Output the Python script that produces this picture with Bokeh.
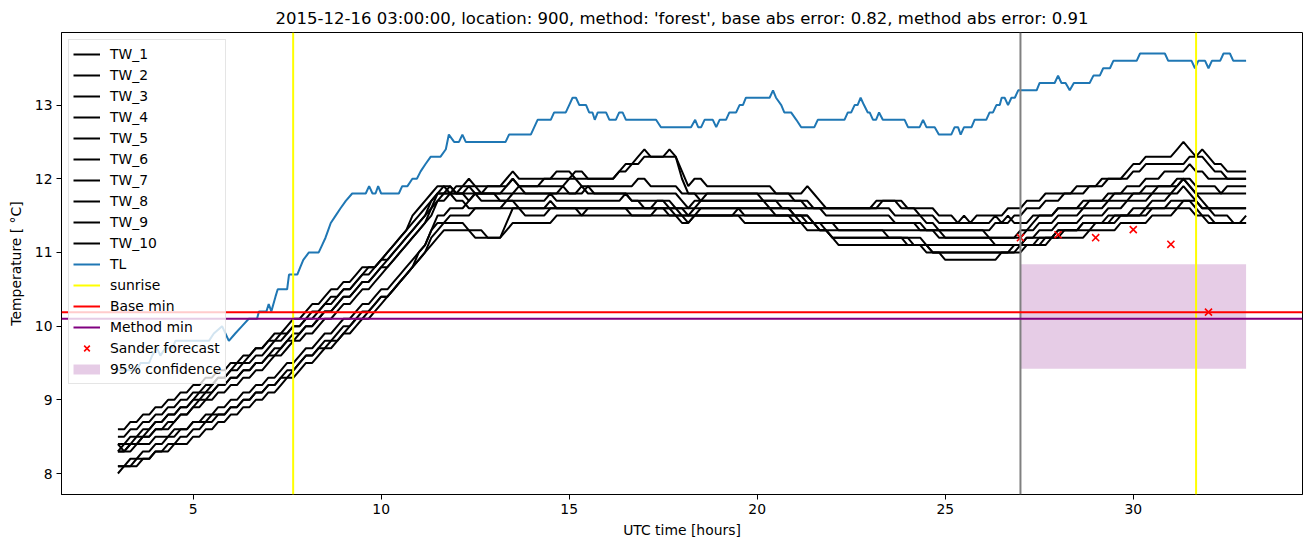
import numpy as np
from bokeh.plotting import figure
from bokeh.models import Range1d, FixedTicker, Span, Legend, LegendItem
from bokeh.embed import file_html
from bokeh.resources import INLINE

title_text = "2015-12-16 03:00:00, location: 900, method: 'forest', base abs error: 0.82, method abs error: 0.91"

# 10-minute samples from hour 3 to hour 33
tw_hours = list(np.round(np.arange(181) / 6 + 3, 4))

tw_1 = [8.6, 8.6, 8.7, 8.7, 8.8, 8.8, 8.9, 8.9, 9.0, 9.0, 9.1, 9.1,
        9.2, 9.2, 9.3, 9.3, 9.4, 9.4, 9.5, 9.5, 9.6, 9.6, 9.7, 9.7,
        9.8, 9.9, 9.9, 10.0, 10.1, 10.1, 10.2, 10.3, 10.3, 10.4, 10.5, 10.5,
        10.6, 10.6, 10.7, 10.8, 10.8, 10.8, 10.9, 11.0, 11.1, 11.2, 11.3, 11.5,
        11.6, 11.7, 11.8, 11.9, 11.9, 11.8, 11.9, 11.9, 12.0, 11.9, 11.9, 11.9,
        11.9, 11.9, 12.0, 12.1, 12.0, 12.0, 12.0, 12.0, 12.0, 12.0, 12.1, 12.1,
        12.1, 12.0, 12.0, 12.0, 12.0, 12.0, 12.0, 12.0, 12.1, 12.1, 12.2, 12.3,
        12.4, 12.3, 12.3, 12.3, 12.3, 12.3, 12.0, 11.8, 11.8, 11.8, 11.8, 11.8,
        11.8, 11.8, 11.8, 11.8, 11.8, 11.8, 11.8, 11.7, 11.7, 11.7, 11.7, 11.7,
        11.7, 11.7, 11.6, 11.6, 11.6, 11.6, 11.6, 11.6, 11.6, 11.6, 11.6, 11.6,
        11.6, 11.7, 11.7, 11.7, 11.7, 11.6, 11.6, 11.6, 11.5, 11.5, 11.5, 11.4,
        11.4, 11.4, 11.4, 11.5, 11.4, 11.5, 11.5, 11.5, 11.5, 11.5, 11.6, 11.6,
        11.6, 11.7, 11.7, 11.7, 11.8, 11.8, 11.8, 11.8, 11.8, 11.9, 11.9, 11.9,
        11.9, 12.0, 12.0, 12.0, 12.0, 12.1, 12.2, 12.2, 12.3, 12.3, 12.3, 12.3,
        12.3, 12.4, 12.5, 12.4, 12.3, 12.4, 12.3, 12.2, 12.2, 12.1, 12.1, 12.1,
        12.1]

tw_2 = [8.5, 8.5, 8.6, 8.6, 8.7, 8.7, 8.8, 8.8, 8.9, 8.9, 9.0, 9.0,
        9.1, 9.1, 9.2, 9.2, 9.3, 9.3, 9.4, 9.5, 9.5, 9.6, 9.7, 9.7,
        9.8, 9.8, 9.9, 9.9, 10.0, 10.0, 10.1, 10.2, 10.2, 10.3, 10.4, 10.4,
        10.5, 10.5, 10.6, 10.7, 10.8, 10.8, 10.9, 11.0, 11.1, 11.2, 11.3, 11.4,
        11.5, 11.6, 11.7, 11.8, 11.9, 11.9, 11.8, 11.9, 11.9, 11.9, 11.8, 11.9,
        11.9, 11.9, 11.9, 12.0, 11.9, 11.9, 11.9, 11.9, 12.0, 12.0, 12.0, 12.0,
        12.0, 12.1, 12.1, 12.0, 12.0, 12.0, 12.0, 12.0, 12.1, 12.2, 12.2, 12.2,
        12.3, 12.3, 12.3, 12.3, 12.4, 12.3, 12.1, 11.9, 12.0, 12.0, 11.9, 11.9,
        11.9, 11.9, 11.9, 11.9, 11.9, 11.9, 11.9, 11.9, 11.9, 11.8, 11.8, 11.8,
        11.8, 11.8, 11.9, 11.8, 11.7, 11.6, 11.6, 11.6, 11.6, 11.6, 11.6, 11.6,
        11.6, 11.6, 11.6, 11.6, 11.5, 11.5, 11.5, 11.5, 11.5, 11.4, 11.4, 11.3,
        11.3, 11.3, 11.3, 11.3, 11.3, 11.3, 11.3, 11.3, 11.4, 11.4, 11.4, 11.5,
        11.5, 11.6, 11.6, 11.6, 11.7, 11.7, 11.7, 11.8, 11.8, 11.8, 11.8, 11.9,
        11.9, 11.9, 12.0, 12.0, 12.0, 12.0, 12.1, 12.1, 12.2, 12.2, 12.2, 12.2,
        12.2, 12.2, 12.2, 12.3, 12.3, 12.3, 12.2, 12.1, 12.1, 12.0, 12.0, 12.0,
        12.0]

tw_3 = [8.4, 8.4, 8.5, 8.5, 8.6, 8.6, 8.7, 8.7, 8.8, 8.8, 8.9, 8.9,
        9.0, 9.1, 9.1, 9.2, 9.3, 9.3, 9.4, 9.4, 9.5, 9.5, 9.6, 9.6,
        9.7, 9.8, 9.8, 9.9, 10.0, 10.0, 10.1, 10.1, 10.2, 10.3, 10.3, 10.4,
        10.5, 10.5, 10.6, 10.7, 10.7, 10.8, 10.9, 10.9, 11.0, 11.1, 11.2, 11.3,
        11.4, 11.5, 11.7, 11.8, 11.8, 11.9, 11.8, 11.8, 11.8, 11.8, 11.8, 11.8,
        11.8, 11.8, 11.9, 12.0, 11.9, 11.9, 11.9, 11.9, 11.9, 11.9, 11.9, 11.9,
        12.0, 12.0, 11.9, 11.9, 11.9, 11.9, 11.9, 11.9, 11.9, 11.9, 11.9, 12.0,
        12.0, 11.9, 11.9, 11.9, 11.9, 11.9, 11.8, 11.8, 11.8, 11.7, 11.7, 11.7,
        11.7, 11.7, 11.7, 11.7, 11.7, 11.7, 11.7, 11.7, 11.7, 11.7, 11.6, 11.6,
        11.6, 11.6, 11.6, 11.6, 11.6, 11.5, 11.5, 11.5, 11.5, 11.5, 11.5, 11.5,
        11.5, 11.5, 11.5, 11.5, 11.4, 11.4, 11.4, 11.4, 11.3, 11.3, 11.3, 11.2,
        11.2, 11.2, 11.2, 11.2, 11.2, 11.2, 11.2, 11.2, 11.2, 11.2, 11.2, 11.2,
        11.3, 11.3, 11.4, 11.5, 11.5, 11.5, 11.6, 11.6, 11.6, 11.6, 11.7, 11.7,
        11.7, 11.7, 11.8, 11.8, 11.8, 11.9, 11.9, 11.9, 12.0, 12.0, 12.0, 12.1,
        12.1, 12.1, 12.1, 12.2, 12.1, 12.1, 12.0, 12.0, 12.0, 12.0, 12.0, 12.0,
        12.0]

tw_4 = [8.4, 8.3, 8.4, 8.5, 8.5, 8.6, 8.7, 8.7, 8.8, 8.8, 8.9, 8.9,
        9.0, 9.0, 9.1, 9.1, 9.2, 9.2, 9.3, 9.3, 9.4, 9.4, 9.5, 9.5,
        9.6, 9.7, 9.7, 9.8, 9.9, 9.9, 10.0, 10.0, 10.1, 10.2, 10.2, 10.3,
        10.4, 10.4, 10.5, 10.6, 10.6, 10.7, 10.8, 10.9, 11.0, 11.1, 11.2, 11.3,
        11.4, 11.5, 11.6, 11.8, 11.8, 11.8, 11.8, 11.8, 11.7, 11.8, 11.8, 11.8,
        11.8, 11.7, 11.7, 11.8, 11.8, 11.8, 11.8, 11.8, 11.8, 11.8, 11.8, 11.9,
        11.8, 11.8, 11.9, 11.8, 11.8, 11.8, 11.8, 11.8, 11.8, 11.8, 11.8, 11.8,
        11.8, 11.8, 11.8, 11.8, 11.8, 11.8, 11.7, 11.6, 11.6, 11.7, 11.7, 11.7,
        11.7, 11.7, 11.7, 11.7, 11.7, 11.7, 11.7, 11.7, 11.6, 11.6, 11.6, 11.6,
        11.5, 11.5, 11.5, 11.4, 11.4, 11.4, 11.4, 11.4, 11.4, 11.4, 11.4, 11.4,
        11.4, 11.4, 11.4, 11.4, 11.4, 11.4, 11.4, 11.4, 11.4, 11.3, 11.3, 11.3,
        11.3, 11.3, 11.3, 11.3, 11.3, 11.3, 11.3, 11.2, 11.2, 11.2, 11.2, 11.2,
        11.2, 11.3, 11.3, 11.4, 11.4, 11.4, 11.5, 11.5, 11.5, 11.5, 11.6, 11.6,
        11.6, 11.6, 11.7, 11.7, 11.7, 11.7, 11.8, 11.8, 11.8, 11.8, 11.9, 11.9,
        11.9, 12.0, 12.0, 11.9, 11.8, 11.8, 11.8, 11.8, 11.8, 11.9, 11.9, 11.9,
        11.9]

tw_5 = [8.3, 8.4, 8.4, 8.4, 8.5, 8.5, 8.6, 8.6, 8.7, 8.7, 8.8, 8.8,
        8.9, 9.0, 9.0, 9.1, 9.2, 9.2, 9.3, 9.3, 9.4, 9.4, 9.5, 9.5,
        9.6, 9.6, 9.7, 9.8, 9.8, 9.9, 10.0, 10.0, 10.1, 10.2, 10.2, 10.3,
        10.4, 10.4, 10.5, 10.6, 10.6, 10.7, 10.8, 10.8, 10.9, 11.0, 11.1, 11.2,
        11.3, 11.4, 11.5, 11.7, 11.7, 11.8, 11.8, 11.8, 11.9, 11.8, 11.7, 11.7,
        11.7, 11.7, 11.7, 11.7, 11.7, 11.7, 11.7, 11.7, 11.7, 11.8, 11.7, 11.7,
        11.7, 11.7, 11.7, 11.7, 11.7, 11.7, 11.7, 11.7, 11.7, 11.8, 11.7, 11.7,
        11.7, 11.7, 11.7, 11.7, 11.6, 11.6, 11.5, 11.5, 11.6, 11.6, 11.6, 11.6,
        11.6, 11.6, 11.6, 11.6, 11.6, 11.6, 11.6, 11.6, 11.6, 11.6, 11.6, 11.6,
        11.5, 11.5, 11.5, 11.4, 11.4, 11.3, 11.3, 11.3, 11.3, 11.3, 11.3, 11.3,
        11.3, 11.3, 11.3, 11.2, 11.2, 11.2, 11.2, 11.2, 11.2, 11.1, 11.1, 11.1,
        11.1, 11.1, 11.1, 11.1, 11.1, 11.1, 11.1, 11.1, 11.1, 11.1, 11.1, 11.1,
        11.1, 11.2, 11.2, 11.3, 11.3, 11.3, 11.4, 11.4, 11.4, 11.4, 11.5, 11.5,
        11.5, 11.5, 11.6, 11.6, 11.6, 11.7, 11.7, 11.7, 11.7, 11.8, 11.8, 11.8,
        11.8, 11.9, 12.0, 12.0, 11.9, 11.9, 11.9, 11.9, 11.8, 11.8, 11.8, 11.8,
        11.8]

tw_6 = [8.3, 8.3, 8.4, 8.4, 8.5, 8.5, 8.6, 8.6, 8.6, 8.7, 8.8, 8.8,
        8.9, 8.9, 9.0, 9.0, 9.1, 9.1, 9.2, 9.2, 9.3, 9.3, 9.4, 9.4,
        9.5, 9.6, 9.6, 9.7, 9.8, 9.8, 9.9, 9.9, 10.0, 10.1, 10.1, 10.2,
        10.3, 10.3, 10.4, 10.5, 10.5, 10.6, 10.7, 10.8, 10.9, 11.0, 11.1, 11.2,
        11.3, 11.4, 11.6, 11.7, 11.8, 11.8, 11.7, 11.7, 11.6, 11.6, 11.6, 11.6,
        11.6, 11.6, 11.7, 11.7, 11.6, 11.6, 11.6, 11.6, 11.6, 11.6, 11.6, 11.6,
        11.6, 11.6, 11.5, 11.6, 11.6, 11.6, 11.6, 11.6, 11.6, 11.6, 11.6, 11.6,
        11.6, 11.6, 11.6, 11.6, 11.6, 11.5, 11.4, 11.4, 11.5, 11.5, 11.5, 11.5,
        11.5, 11.5, 11.5, 11.5, 11.5, 11.5, 11.5, 11.5, 11.5, 11.5, 11.5, 11.5,
        11.5, 11.4, 11.4, 11.4, 11.3, 11.3, 11.2, 11.2, 11.2, 11.2, 11.2, 11.2,
        11.2, 11.2, 11.2, 11.2, 11.2, 11.2, 11.2, 11.1, 11.1, 11.1, 11.0, 11.0,
        10.9, 10.9, 10.9, 10.9, 10.9, 10.9, 10.9, 10.9, 10.9, 11.0, 11.0, 11.0,
        11.0, 11.1, 11.1, 11.2, 11.2, 11.2, 11.3, 11.3, 11.3, 11.3, 11.4, 11.4,
        11.4, 11.4, 11.5, 11.5, 11.5, 11.5, 11.6, 11.6, 11.6, 11.7, 11.7, 11.7,
        11.8, 11.8, 11.9, 11.8, 11.7, 11.6, 11.6, 11.6, 11.6, 11.6, 11.6, 11.6,
        11.6]

tw_7 = [8.3, 8.3, 8.3, 8.4, 8.4, 8.4, 8.5, 8.5, 8.5, 8.6, 8.6, 8.6,
        8.7, 8.7, 8.8, 8.8, 8.9, 8.9, 9.0, 9.0, 9.1, 9.1, 9.2, 9.2,
        9.3, 9.3, 9.4, 9.5, 9.5, 9.6, 9.7, 9.7, 9.8, 9.9, 9.9, 10.0,
        10.1, 10.1, 10.2, 10.3, 10.3, 10.4, 10.5, 10.5, 10.6, 10.7, 10.8, 10.9,
        11.0, 11.1, 11.3, 11.5, 11.5, 11.6, 11.6, 11.6, 11.7, 11.8, 11.8, 11.8,
        11.8, 11.8, 11.8, 11.8, 11.9, 11.8, 11.8, 11.8, 11.8, 11.8, 11.8, 11.8,
        11.8, 11.8, 11.8, 11.9, 11.8, 11.8, 11.8, 11.8, 11.8, 11.8, 11.7, 11.7,
        11.6, 11.6, 11.7, 11.7, 11.7, 11.6, 11.6, 11.6, 11.7, 11.7, 11.8, 11.8,
        11.8, 11.8, 11.8, 11.8, 11.8, 11.8, 11.8, 11.8, 11.8, 11.8, 11.8, 11.8,
        11.7, 11.7, 11.7, 11.6, 11.6, 11.6, 11.6, 11.6, 11.6, 11.6, 11.6, 11.6,
        11.6, 11.6, 11.7, 11.7, 11.7, 11.7, 11.6, 11.6, 11.6, 11.6, 11.6, 11.5,
        11.5, 11.5, 11.4, 11.4, 11.4, 11.4, 11.4, 11.4, 11.5, 11.4, 11.5, 11.4,
        11.4, 11.4, 11.5, 11.5, 11.5, 11.5, 11.6, 11.6, 11.6, 11.6, 11.6, 11.7,
        11.7, 11.7, 11.7, 11.8, 11.8, 11.8, 11.8, 11.8, 11.9, 11.9, 11.9, 11.9,
        11.9, 11.9, 12.0, 11.9, 11.8, 11.7, 11.6, 11.5, 11.5, 11.5, 11.4, 11.4,
        11.5]

tw_8 = [8.1, 8.1, 8.2, 8.2, 8.3, 8.3, 8.4, 8.4, 8.5, 8.5, 8.6, 8.6,
        8.7, 8.7, 8.7, 8.8, 8.8, 8.8, 8.9, 8.9, 9.0, 9.0, 9.1, 9.1,
        9.2, 9.2, 9.3, 9.4, 9.4, 9.5, 9.6, 9.6, 9.7, 9.8, 9.8, 9.9,
        10.0, 10.0, 10.1, 10.2, 10.2, 10.3, 10.4, 10.4, 10.5, 10.6, 10.7, 10.8,
        11.0, 11.1, 11.3, 11.4, 11.4, 11.5, 11.5, 11.5, 11.5, 11.6, 11.6, 11.6,
        11.6, 11.6, 11.6, 11.6, 11.6, 11.6, 11.6, 11.6, 11.6, 11.7, 11.6, 11.6,
        11.6, 11.6, 11.6, 11.6, 11.6, 11.6, 11.6, 11.6, 11.6, 11.6, 11.6, 11.6,
        11.6, 11.6, 11.6, 11.6, 11.6, 11.6, 11.6, 11.5, 11.5, 11.6, 11.6, 11.6,
        11.6, 11.6, 11.6, 11.6, 11.6, 11.6, 11.6, 11.6, 11.6, 11.5, 11.5, 11.5,
        11.5, 11.5, 11.4, 11.4, 11.4, 11.4, 11.4, 11.3, 11.3, 11.3, 11.3, 11.3,
        11.3, 11.3, 11.3, 11.3, 11.3, 11.3, 11.3, 11.3, 11.3, 11.3, 11.3, 11.3,
        11.2, 11.2, 11.2, 11.2, 11.2, 11.2, 11.2, 11.2, 11.1, 11.1, 11.1, 11.1,
        11.1, 11.2, 11.2, 11.2, 11.2, 11.2, 11.3, 11.3, 11.3, 11.3, 11.4, 11.4,
        11.4, 11.4, 11.4, 11.5, 11.5, 11.5, 11.5, 11.5, 11.5, 11.6, 11.6, 11.6,
        11.6, 11.6, 11.7, 11.7, 11.6, 11.5, 11.5, 11.4, 11.4, 11.4, 11.4, 11.4,
        11.4]

tw_9 = [8.1, 8.1, 8.1, 8.2, 8.2, 8.2, 8.3, 8.3, 8.4, 8.4, 8.5, 8.5,
        8.6, 8.6, 8.7, 8.7, 8.8, 8.8, 8.9, 8.9, 9.0, 9.0, 9.1, 9.1,
        9.2, 9.2, 9.3, 9.3, 9.4, 9.5, 9.6, 9.6, 9.7, 9.7, 9.8, 9.8,
        9.9, 10.0, 10.1, 10.1, 10.2, 10.3, 10.4, 10.4, 10.5, 10.6, 10.7, 10.8,
        10.9, 11.0, 11.2, 11.3, 11.4, 11.4, 11.4, 11.4, 11.3, 11.3, 11.3, 11.2,
        11.2, 11.2, 11.4, 11.6, 11.6, 11.5, 11.5, 11.5, 11.5, 11.6, 11.6, 11.6,
        11.6, 11.6, 11.6, 11.6, 11.6, 11.6, 11.6, 11.6, 11.6, 11.6, 11.5, 11.5,
        11.5, 11.5, 11.6, 11.6, 11.5, 11.5, 11.5, 11.5, 11.5, 11.5, 11.5, 11.5,
        11.5, 11.5, 11.5, 11.6, 11.5, 11.5, 11.5, 11.5, 11.5, 11.5, 11.5, 11.5,
        11.4, 11.4, 11.4, 11.4, 11.3, 11.3, 11.2, 11.2, 11.2, 11.2, 11.2, 11.2,
        11.2, 11.2, 11.2, 11.2, 11.2, 11.2, 11.1, 11.1, 11.1, 11.1, 11.0, 11.0,
        11.0, 11.0, 11.0, 11.0, 11.0, 11.0, 11.0, 11.0, 11.0, 11.0, 11.0, 11.0,
        11.1, 11.1, 11.1, 11.1, 11.2, 11.2, 11.2, 11.3, 11.3, 11.3, 11.3, 11.3,
        11.4, 11.4, 11.4, 11.4, 11.5, 11.5, 11.5, 11.5, 11.6, 11.6, 11.6, 11.6,
        11.7, 11.7, 11.7, 11.7, 11.7, 11.6, 11.6, 11.6, 11.6, 11.6, 11.6, 11.6,
        11.6]

tw_10 = [8.0, 8.1, 8.1, 8.1, 8.2, 8.2, 8.3, 8.3, 8.3, 8.4, 8.4, 8.4,
         8.5, 8.5, 8.6, 8.6, 8.7, 8.7, 8.8, 8.8, 8.9, 8.9, 9.0, 9.0,
         9.1, 9.1, 9.2, 9.3, 9.3, 9.4, 9.5, 9.5, 9.6, 9.7, 9.7, 9.8,
         9.9, 9.9, 10.0, 10.1, 10.1, 10.2, 10.3, 10.4, 10.5, 10.6, 10.7, 10.8,
         10.9, 11.0, 11.1, 11.2, 11.3, 11.3, 11.3, 11.3, 11.3, 11.2, 11.2, 11.2,
         11.2, 11.2, 11.3, 11.4, 11.4, 11.4, 11.4, 11.4, 11.4, 11.4, 11.5, 11.5,
         11.5, 11.5, 11.5, 11.5, 11.5, 11.5, 11.5, 11.5, 11.5, 11.5, 11.5, 11.5,
         11.5, 11.5, 11.5, 11.5, 11.5, 11.5, 11.5, 11.4, 11.5, 11.5, 11.5, 11.5,
         11.5, 11.5, 11.5, 11.5, 11.4, 11.4, 11.4, 11.4, 11.4, 11.4, 11.4, 11.4,
         11.4, 11.4, 11.3, 11.3, 11.3, 11.3, 11.2, 11.1, 11.1, 11.1, 11.1, 11.1,
         11.1, 11.1, 11.1, 11.1, 11.1, 11.1, 11.1, 11.1, 11.1, 11.0, 11.0, 11.0,
         11.0, 11.0, 11.0, 11.0, 11.0, 11.0, 11.0, 11.0, 11.0, 11.0, 11.0, 11.1,
         11.1, 11.1, 11.1, 11.1, 11.1, 11.2, 11.2, 11.2, 11.2, 11.2, 11.2, 11.3,
         11.3, 11.3, 11.3, 11.3, 11.4, 11.4, 11.4, 11.4, 11.4, 11.5, 11.5, 11.5,
         11.5, 11.6, 11.6, 11.6, 11.5, 11.5, 11.4, 11.4, 11.4, 11.4, 11.4, 11.4,
         11.4]

tw_series = [tw_1, tw_2, tw_3, tw_4, tw_5, tw_6, tw_7, tw_8, tw_9, tw_10]
tw_names = ["TW_1", "TW_2", "TW_3", "TW_4", "TW_5", "TW_6", "TW_7", "TW_8", "TW_9", "TW_10"]

tl_hours = [3.0, 3.5, 3.6, 3.83, 3.91, 4.04, 4.13, 4.26, 4.45, 4.53, 5.42, 5.55, 5.77, 5.95,
            6.12, 6.3, 6.48, 6.7, 6.75, 6.95, 7.01, 7.08, 7.19, 7.25, 7.5, 7.55, 7.77, 7.85,
            7.93, 8.08, 8.34, 8.43, 8.52, 8.59, 8.66, 8.79, 8.92, 9.06, 9.23, 9.59, 9.68, 9.77,
            9.85, 9.92, 10.0, 10.47, 10.56, 10.7, 10.83, 10.95, 11.05, 11.18, 11.32, 11.58,
            11.72, 11.8, 11.94, 12.07, 12.16, 12.25, 13.31, 13.4, 13.98, 14.16, 14.51, 14.6,
            14.91, 15.0, 15.09, 15.18, 15.27, 15.45, 15.53, 15.62, 15.68, 15.76, 15.98, 16.07,
            16.24, 16.33, 16.42, 16.51, 17.31, 17.44, 18.24, 18.35, 18.43, 18.51, 18.6, 18.82,
            18.91, 19.0, 19.17, 19.26, 19.44, 19.53, 19.62, 19.7, 20.33, 20.42, 20.5, 20.64,
            20.72, 20.9, 21.04, 21.17, 21.52, 21.61, 22.32, 22.41, 22.5, 22.59, 22.67, 22.75,
            22.84, 22.94, 22.99, 23.08, 23.16, 23.24, 23.34, 23.92, 24.01, 24.32, 24.41, 24.5,
            24.72, 24.83, 25.16, 25.25, 25.34, 25.41, 25.5, 25.7, 25.78, 26.09, 26.18, 26.27,
            26.36, 26.45, 26.5, 26.58, 26.67, 26.76, 26.85, 26.94, 27.43, 27.51, 27.91, 28.0,
            28.09, 28.2, 28.31, 28.42, 28.84, 28.94, 29.11, 29.2, 29.38, 29.47, 30.09, 30.18,
            30.84, 30.93, 31.55, 31.64, 31.73, 31.91, 32.0, 32.09, 32.31, 32.4, 32.57, 32.66,
            33.0]
tl_temp = [9.4, 9.4, 9.5, 9.5, 9.6, 9.7, 9.6, 9.7, 9.7, 9.8, 9.8, 9.9, 10.0, 9.8,
           9.9, 10.0, 10.1, 10.1, 10.2, 10.2, 10.3, 10.2, 10.4, 10.5, 10.5, 10.7, 10.7, 10.8,
           10.9, 11.0, 11.0, 11.1, 11.2, 11.3, 11.4, 11.5, 11.6, 11.7, 11.8, 11.8, 11.9, 11.8,
           11.8, 11.9, 11.8, 11.8, 11.9, 11.9, 12.0, 12.0, 12.1, 12.2, 12.3, 12.3,
           12.4, 12.6, 12.5, 12.5, 12.6, 12.5, 12.5, 12.6, 12.6, 12.8, 12.8, 12.9,
           12.9, 13.0, 13.1, 13.1, 13.0, 13.0, 12.9, 12.9, 12.8, 12.9, 12.9, 12.8,
           12.8, 12.9, 12.9, 12.8, 12.8, 12.7, 12.7, 12.8, 12.7, 12.7, 12.8, 12.8,
           12.7, 12.8, 12.8, 12.9, 12.9, 13.0, 13.0, 13.1, 13.1, 13.2, 13.1, 13.0,
           12.9, 12.9, 12.8, 12.7, 12.7, 12.8, 12.8, 12.9, 12.9, 13.0, 13.0, 13.1,
           13.0, 12.9, 12.9, 12.8, 12.8, 12.9, 12.8, 12.8, 12.7, 12.7, 12.8, 12.7,
           12.7, 12.6, 12.6, 12.7, 12.7, 12.6, 12.7, 12.7, 12.8, 12.8, 12.9, 12.9,
           13.0, 13.0, 13.1, 13.1, 13.0, 13.1, 13.1, 13.2, 13.2, 13.3, 13.3, 13.4,
           13.3, 13.3, 13.2, 13.3, 13.3, 13.4, 13.4, 13.5, 13.5, 13.6, 13.6, 13.7,
           13.7, 13.6, 13.6, 13.5, 13.6, 13.6, 13.5, 13.6, 13.6, 13.7, 13.7, 13.6,
           13.6]

sunrise_hours = [7.66, 31.67]
forecast_start_hour = 27.0
base_min = 10.19
method_min = 10.10
forecast_hours = [27, 28, 29, 30, 31, 32]
forecast_temp = [11.2, 11.24, 11.2, 11.31, 11.11, 10.19]
conf_hours = [27, 33]
conf_lower = [9.42, 9.42]
conf_upper = [10.84, 10.84]

x_ticks = [5, 10, 15, 20, 25, 30]
y_ticks = [8, 9, 10, 11, 12, 13]

FONT = "DejaVu Sans"
NAN = float("nan")

p = figure(width=1311, height=547, output_backend="svg", toolbar_location=None,
           x_range=Range1d(1.5, 34.5), y_range=Range1d(7.715, 13.985),
           min_border_left=61, min_border_right=9, min_border_top=32, min_border_bottom=53)

p.title.text = title_text
p.title.align = "center"
p.title.text_font = FONT
p.title.text_font_size = "16.5px"
p.title.text_font_style = "normal"
p.title.text_color = "black"

p.background_fill_color = "white"
p.outline_line_color = "black"
p.outline_line_width = 1
p.outline_line_alpha = 1
p.xgrid.grid_line_color = None
p.ygrid.grid_line_color = None

for ax in (p.xaxis, p.yaxis):
    ax.axis_line_color = "black"
    ax.major_tick_line_color = "black"
    ax.major_tick_out = 5
    ax.major_tick_in = 0
    ax.minor_tick_line_color = None
    ax.major_label_text_font = FONT
    ax.major_label_text_font_size = "13.9px"
    ax.major_label_text_color = "black"
    ax.axis_label_text_font = FONT
    ax.axis_label_text_font_size = "13.9px"
    ax.axis_label_text_font_style = "normal"
    ax.axis_label_text_color = "black"
    ax.major_label_standoff = 4

p.xaxis.ticker = FixedTicker(ticks=x_ticks)
p.yaxis.ticker = FixedTicker(ticks=y_ticks)
p.xaxis.axis_label = "UTC time [hours]"
p.yaxis.axis_label = "Temperature [ \u00b0C]"
p.xaxis.axis_label_standoff = 5
p.yaxis.axis_label_standoff = 8

# confidence band (drawn first, underneath)
p.varea(x=conf_hours, y1=conf_lower, y2=conf_upper, fill_color="purple", fill_alpha=0.2)

items = []
for name, vals in zip(tw_names, tw_series):
    r = p.line(tw_hours, vals, line_color="black", line_width=2)
    items.append(LegendItem(label=name, renderers=[r]))

r_tl = p.line(tl_hours, tl_temp, line_color="#1f77b4", line_width=2)
items.append(LegendItem(label="TL", renderers=[r_tl]))

for h in sunrise_hours:
    p.add_layout(Span(location=h, dimension="height", line_color="yellow", line_width=2))
p.add_layout(Span(location=forecast_start_hour, dimension="height", line_color="gray", line_width=2))
p.add_layout(Span(location=base_min, dimension="width", line_color="red", line_width=2))
p.add_layout(Span(location=method_min, dimension="width", line_color="purple", line_width=2))

# legend proxies (no visible data)
r_sun = p.line(x=[NAN, NAN], y=[NAN, NAN], line_color="yellow", line_width=2)
r_base = p.line(x=[NAN, NAN], y=[NAN, NAN], line_color="red", line_width=2)
r_meth = p.line(x=[NAN, NAN], y=[NAN, NAN], line_color="purple", line_width=2)
r_conf_proxy = p.line(x=[NAN, NAN], y=[NAN, NAN], line_color="purple", line_alpha=0.2,
                      line_width=10, line_cap="butt")
items.append(LegendItem(label="sunrise", renderers=[r_sun]))
items.append(LegendItem(label="Base min", renderers=[r_base]))
items.append(LegendItem(label="Method min", renderers=[r_meth]))

r_fc = p.scatter(forecast_hours, forecast_temp, marker="x", size=10,
                 line_color="red", line_width=1.6)
items.append(LegendItem(label="Sander forecast", renderers=[r_fc]))
items.append(LegendItem(label="95% confidence", renderers=[r_conf_proxy]))

legend = Legend(items=items, location="top_left")
legend.label_text_font = FONT
legend.label_text_font_size = "13.9px"
legend.label_text_color = "black"
legend.glyph_width = 27
legend.glyph_height = 20
legend.label_height = 20
legend.spacing = 1
legend.padding = 4
legend.margin = 7
legend.label_standoff = 10
legend.border_line_color = "#cccccc"
legend.border_line_width = 1
legend.background_fill_color = "white"
legend.background_fill_alpha = 0.8
p.add_layout(legend)

open("out.html", "w").write(file_html(p, INLINE))
